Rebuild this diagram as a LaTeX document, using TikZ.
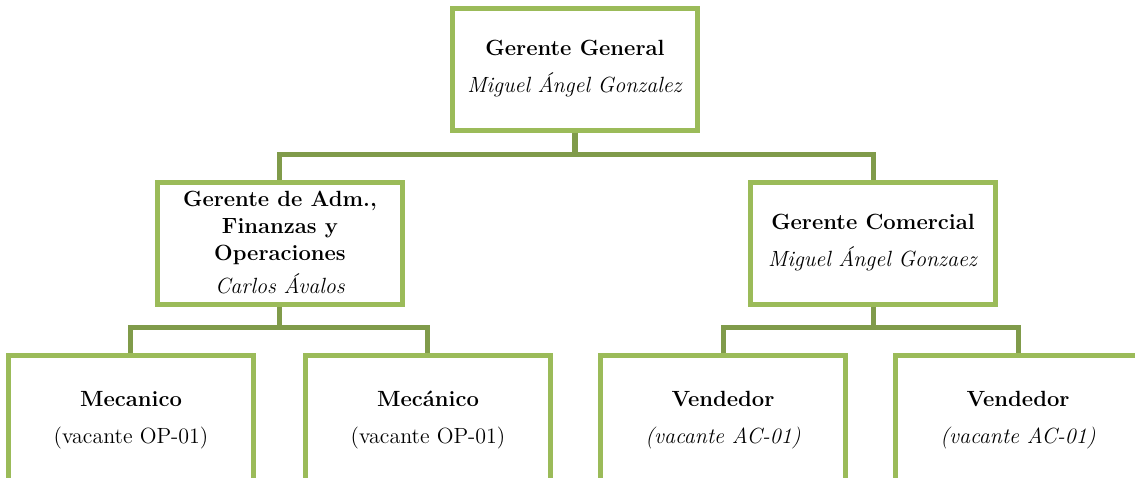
\documentclass[tikz,border=0pt]{standalone}
\usepackage{tikz}
\usetikzlibrary{positioning, calc}
\definecolor{boxgreen}{HTML}{9BBB59}
\definecolor{linkgreen}{HTML}{809B4A}

\begin{document}
\begin{tikzpicture}[box/.style={draw=boxgreen, line width=2.5pt, fill=white, minimum width=122.5pt, minimum height=61pt, align=center, font=\fontsize{11}{13.5}\selectfont}, link/.style={draw=linkgreen, line width=2.5pt}, node distance=87pt]

	\clip (-287.5pt,34.5pt) rectangle (280pt,-204pt);

	\node [box] (GG) {\textbf{Gerente General}\\[5pt] \textit{Miguel Ángel Gonzalez}};

	\node [box] (GAF)
		[below of=GG, xshift=-147.5pt]
		{\textbf{Gerente de Adm.,}\\ \textbf{Finanzas y}\\ \textbf{Operaciones}\\[3pt] \textit{Carlos Ávalos}};

	\node [box] (GC)
		[below of=GG, xshift=149pt]
		{\textbf{Gerente Comercial}\\[5pt] \textit{Miguel Ángel Gonzaez}};

	\node [box] (M1)
		[below of=GAF, node distance=88.5pt, xshift=-74.5pt, minimum height=65pt]
		{\textbf{Mecanico}\\[5pt] (vacante OP-01)};

	\node [box] (M2)
		[below of=GAF, node distance=88.5pt, xshift=74pt, minimum height=65pt]
		{\textbf{Mecánico}\\[5pt] (vacante OP-01)};

	\node [box] (V1)
		[below of=GC, node distance=88.5pt, xshift=-75pt, minimum height=65pt]
		{\textbf{Vendedor}\\[5pt] \textit{(vacante AC-01)}};

	\node [box] (V2)
		[below of=GC, node distance=88.5pt, xshift=72.5pt, minimum height=65pt]
		{\textbf{Vendedor}\\[5pt] \textit{(vacante AC-01)}};

	\draw[link] (GG.south) -- ++(0,-11pt) coordinate (GGbus);
	\draw[link] (GAF.north) |- (GGbus) -| (GC.north);

	\draw[link] (GAF.south) -- ++(0,-10.5pt) coordinate (GAFbus);
	\draw[link] (M1.north) |- (GAFbus) -| (M2.north);

	\draw[link] (GC.south) -- ++(0,-10.5pt) coordinate (GCbus);
	\draw[link] (V1.north) |- (GCbus) -| (V2.north);

\end{tikzpicture}
\end{document}
